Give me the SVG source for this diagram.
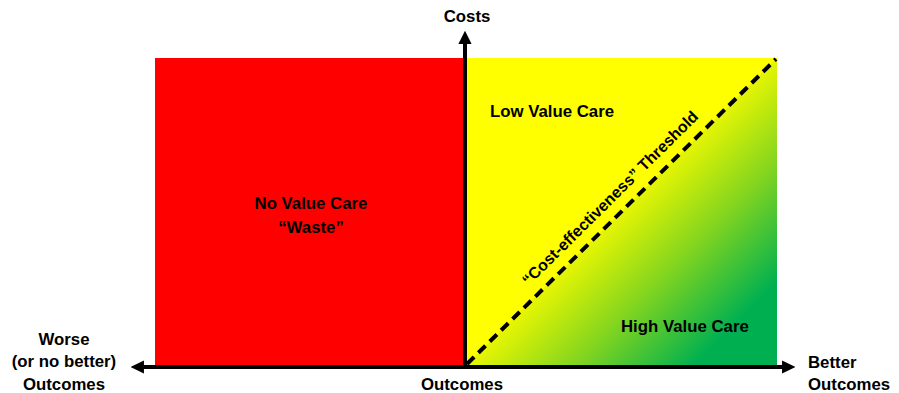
<svg xmlns="http://www.w3.org/2000/svg" width="899" height="393" viewBox="0 0 899 393">
  <style>
    text { font-family: "Liberation Sans", Arial, sans-serif; font-weight: bold; font-size: 16.8px; fill: #000; }
    .mid { text-anchor: middle; }
    .diag { font-size: 16px; }
    .axis { stroke: #000; stroke-width: 4; fill: none; }
    .threshold { stroke: #000; stroke-width: 4; stroke-dasharray: 10 6; fill: none; }
  </style>
  <defs>
    <linearGradient id="valueGrad" gradientUnits="userSpaceOnUse" x1="618" y1="207" x2="735" y2="324">
      <stop offset="0" stop-color="#EEF800"/>
      <stop offset="0.5" stop-color="#80D420"/>
      <stop offset="1" stop-color="#00B050"/>
    </linearGradient>
    <marker id="arrow" viewBox="0 0 10 10" refX="6" refY="5" markerWidth="3.3" markerHeight="3.3" orient="auto" markerUnits="strokeWidth">
      <path d="M0,0 L10,5 L0,10 Z" fill="#000"/>
    </marker>
  </defs>

  <!-- quadrants -->
  <g id="no-value">
    <rect x="155" y="58" width="310" height="308" fill="#FF0000"/>
    <text class="mid" x="311" y="209">No Value Care</text>
    <text class="mid" x="311" y="233">“Waste”</text>
  </g>
  <g id="low-value">
    <rect x="465" y="58" width="312" height="308" fill="#FFFF00"/>
    <text x="490" y="117">Low Value Care</text>
  </g>
  <g id="high-value">
    <polygon points="465,366 777,58 777,366" fill="url(#valueGrad)"/>
    <text x="621" y="332">High Value Care</text>
  </g>

  <!-- axes and threshold -->
  <g id="connectors">
    <line class="threshold" x1="467" y1="364" x2="776" y2="59"/>
    <line class="axis" x1="465" y1="368" x2="465" y2="36" marker-end="url(#arrow)"/>
    <line class="axis" x1="465" y1="367" x2="790" y2="367" marker-end="url(#arrow)"/>
    <line class="axis" x1="465" y1="367" x2="136" y2="367" marker-end="url(#arrow)"/>
  </g>

  <g id="threshold-label">
    <text class="mid diag" transform="translate(614,202) rotate(-44.7)">“Cost-effectiveness” Threshold</text>
  </g>

  <!-- axis labels -->
  <g id="costs"><text class="mid" x="467" y="22">Costs</text></g>
  <g id="outcomes"><text class="mid" x="462" y="390">Outcomes</text></g>
  <g id="worse">
    <text class="mid" x="64" y="345">Worse</text>
    <text class="mid" x="64" y="367">(or no better)</text>
    <text class="mid" x="64" y="390">Outcomes</text>
  </g>
  <g id="better">
    <text x="808" y="368">Better</text>
    <text x="808" y="390">Outcomes</text>
  </g>
</svg>
